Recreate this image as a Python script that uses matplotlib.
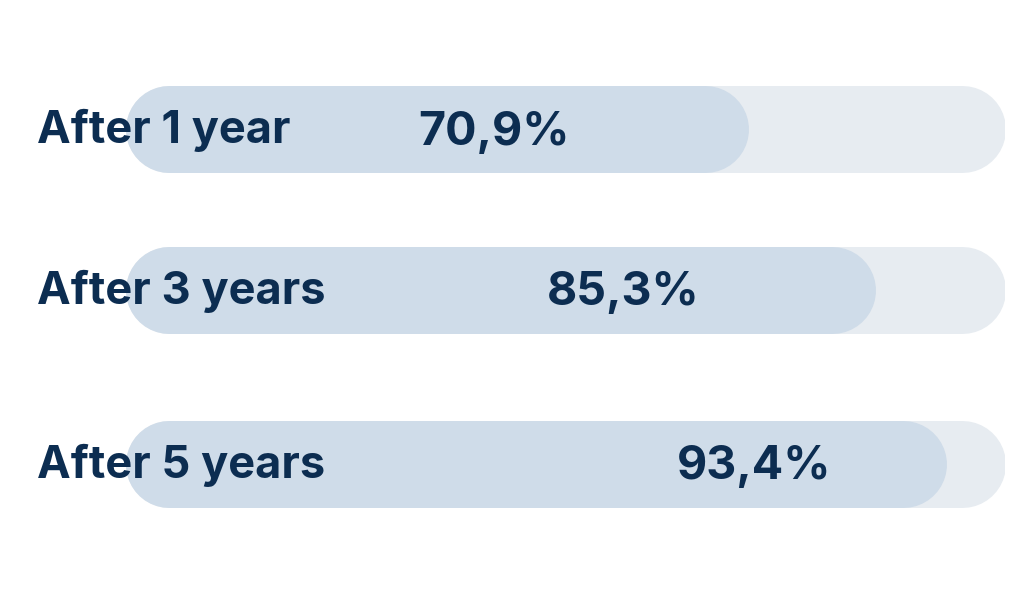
import matplotlib
matplotlib.use('Agg')
import matplotlib.pyplot as plt

# data
labels = ["After 1 year", "After 3 years", "After 5 years"]
values = [70.9, 85.3, 93.4]
value_text = ["70,9%", "85,3%", "93,4%"]

# layout (pixel rows, label x in percent of track)
row_y = [128.5, 289.5, 463.5]
value_x = [41.9, 56.6, 71.5]

navy = "#0c2d51"
fill = "#cfdce9"
track = "#e7ecf1"

W, H, DPI = 1024, 600, 100
fig = plt.figure(figsize=(W / DPI, H / DPI), dpi=DPI)
fig.patch.set_facecolor("white")

left_px, right_px = 125, 1005
ax = fig.add_axes([left_px / W, 0, (right_px - left_px) / W, 1])
ax.set_xlim(0, 100)
ax.set_ylim(H, 0)
ax.axis("off")

bar_px = 87
lw = bar_px * 72 / DPI
r = (bar_px / 2) / ((right_px - left_px) / 100)  # cap radius in data units

plt.rcParams['font.family'] = ['Inter', 'DejaVu Sans']

for lab, v, txt, y, vx in zip(labels, values, value_text, row_y, value_x):
    ax.plot([r, 100 - r], [y, y], color=track, lw=lw, solid_capstyle='round', zorder=1)
    ax.plot([r, v - r], [y, y], color=fill, lw=lw, solid_capstyle='round', zorder=2)
    ax.text(vx, y + 4, txt, ha='center', va='center', fontsize=33.5, fontweight='bold',
            color=navy, zorder=3)
    fig.text(37 / W, 1 - (y + 2) / H, lab, ha='left', va='center', fontsize=32.5,
             fontweight='bold', color=navy, zorder=3)

fig.savefig("out.png", dpi=DPI, facecolor="white")
